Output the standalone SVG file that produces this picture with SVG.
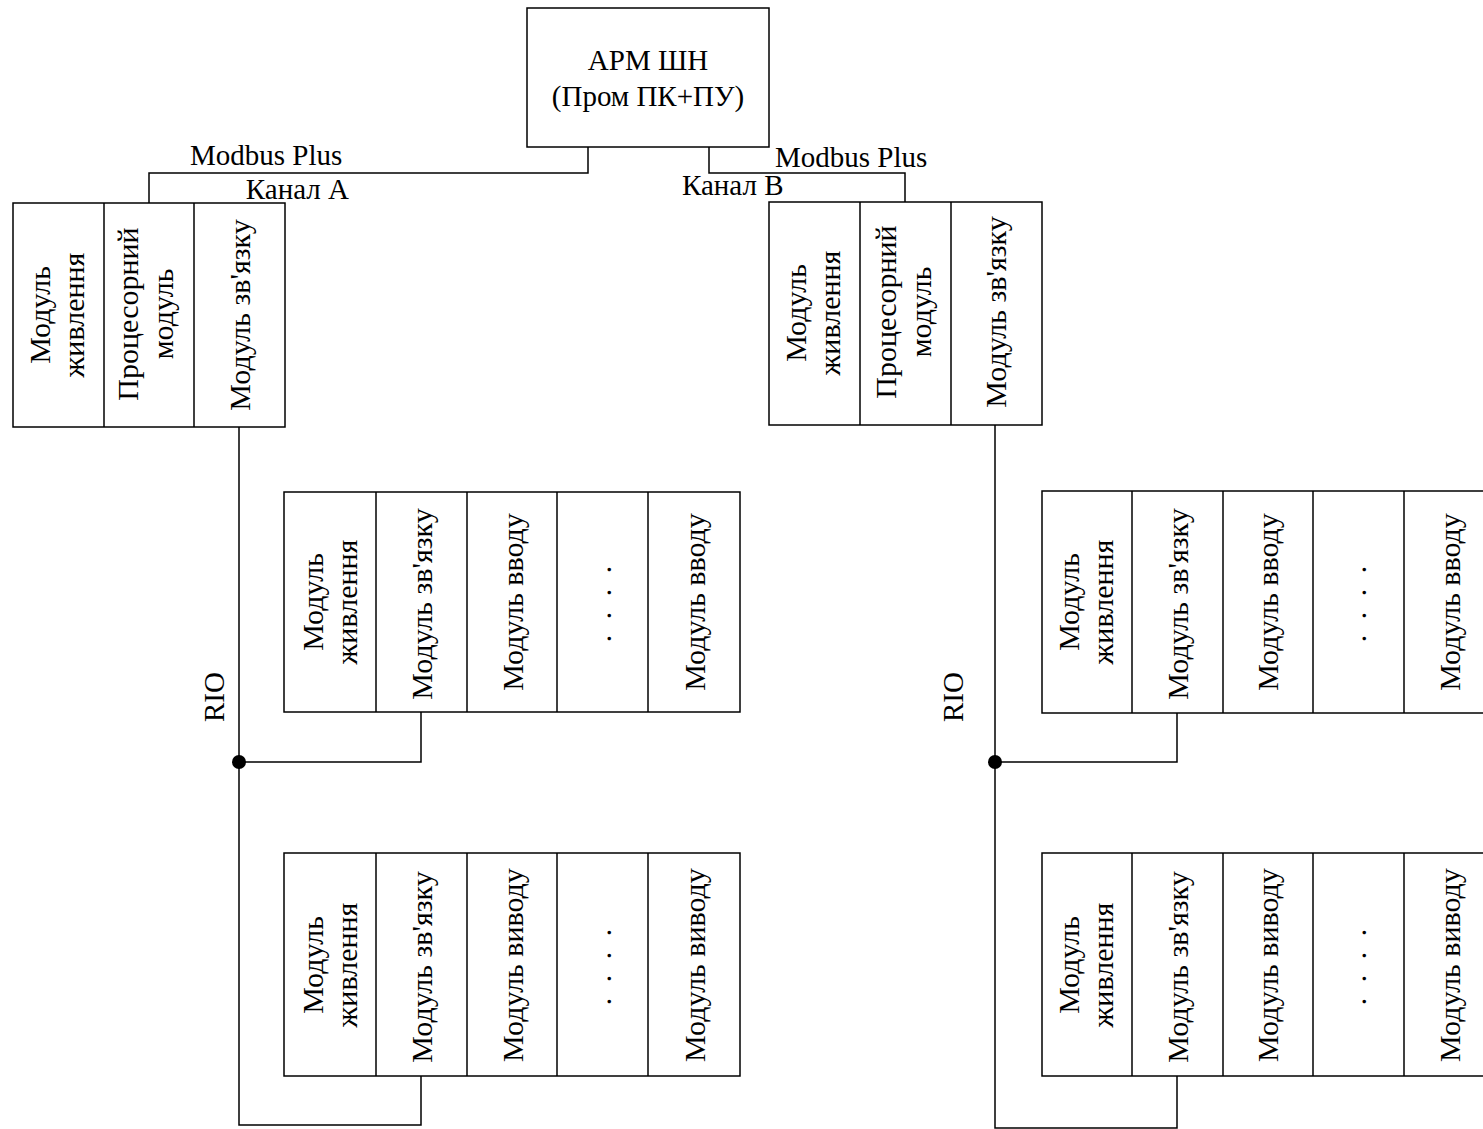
<svg xmlns="http://www.w3.org/2000/svg" width="1483" height="1129" viewBox="0 0 1483 1129">
  <style>
    .box { fill: #fff; stroke: #000; stroke-width: 1.5; }
    .div { stroke: #000; stroke-width: 1.5; }
    .wire { fill: none; stroke: #000; stroke-width: 1.5; }
    .t { font-family: "Liberation Serif", "Times New Roman", serif; font-size: 29px; fill: #000; }
    .v { font-family: "Liberation Serif", "Times New Roman", serif; font-size: 30px; fill: #000; text-anchor: middle; }
    .m { text-anchor: middle; }
    .dots { font-family: "Liberation Serif", "Times New Roman", serif; font-size: 30px; letter-spacing: 4px; text-anchor: middle; }
  </style>
  <rect width="1483" height="1129" fill="#fff"/>

  <!-- connectors -->
  <g id="connectors">
    <path class="wire" d="M588,147 V173 H149 V203"/>
    <path class="wire" d="M709,147 V173 H905 V202"/>
    <path class="wire" d="M239,427 V1125 H421 V1076"/>
    <path class="wire" d="M421,712 V762 H239"/>
    <path class="wire" d="M995,425 V1128 H1177 V1076"/>
    <path class="wire" d="M1177,713 V762 H995"/>
    <circle cx="239" cy="762" r="7" fill="#000"/>
    <circle cx="995" cy="762" r="7" fill="#000"/>
    <text class="t" x="190" y="165">Modbus Plus</text>
    <text class="t" x="349" y="199" text-anchor="end">Канал А</text>
    <text class="t" x="775" y="167">Modbus Plus</text>
    <text class="t" x="682" y="195">Канал В</text>
    <text class="t m" transform="translate(224,697) rotate(-90)">RIO</text>
    <text class="t m" transform="translate(963,697) rotate(-90)">RIO</text>
  </g>

  <!-- operator workstation -->
  <g id="arm">
    <rect class="box" x="527" y="8" width="242" height="139"/>
    <text class="t m" x="648" y="70">АРМ ШН</text>
    <text class="t m" x="648" y="106">(Пром ПК+ПУ)</text>
  </g>

  <!-- controller, channel A -->
  <g id="plc-a">
    <rect class="box" x="13" y="203" width="272" height="224"/>
    <line class="div" x1="104" y1="203" x2="104" y2="427"/>
    <line class="div" x1="194" y1="203" x2="194" y2="427"/>
    <text class="v" transform="translate(50,315) rotate(-90)">Модуль<tspan x="0" dy="34">живлення</tspan></text>
    <text class="v" transform="translate(138,314) rotate(-90)">Процесорний<tspan x="0" dy="35">модуль</tspan></text>
    <text class="v" transform="translate(250,315) rotate(-90)">Модуль зв'язку</text>
  </g>

  <!-- controller, channel B -->
  <g id="plc-b">
    <rect class="box" x="769" y="202" width="273" height="223"/>
    <line class="div" x1="860" y1="202" x2="860" y2="425"/>
    <line class="div" x1="951" y1="202" x2="951" y2="425"/>
    <text class="v" transform="translate(806,313) rotate(-90)">Модуль<tspan x="0" dy="34">живлення</tspan></text>
    <text class="v" transform="translate(896,312) rotate(-90)">Процесорний<tspan x="0" dy="35">модуль</tspan></text>
    <text class="v" transform="translate(1006,312) rotate(-90)">Модуль зв'язку</text>
  </g>

  <!-- remote input rack A -->
  <g id="rio-in-a">
    <rect class="box" x="284" y="492" width="456" height="220"/>
    <line class="div" x1="376" y1="492" x2="376" y2="712"/>
    <line class="div" x1="467" y1="492" x2="467" y2="712"/>
    <line class="div" x1="557" y1="492" x2="557" y2="712"/>
    <line class="div" x1="648" y1="492" x2="648" y2="712"/>
    <text class="v" transform="translate(323,602) rotate(-90)">Модуль<tspan x="0" dy="34">живлення</tspan></text>
    <text class="v" transform="translate(432,604) rotate(-90)">Модуль зв'язку</text>
    <text class="v" transform="translate(523,602) rotate(-90)">Модуль вводу</text>
    <text class="dots" transform="translate(611,602) rotate(-90)">. . . .</text>
    <text class="v" transform="translate(705,602) rotate(-90)">Модуль вводу</text>
  </g>

  <!-- remote output rack A -->
  <g id="rio-out-a">
    <rect class="box" x="284" y="853" width="456" height="223"/>
    <line class="div" x1="376" y1="853" x2="376" y2="1076"/>
    <line class="div" x1="467" y1="853" x2="467" y2="1076"/>
    <line class="div" x1="557" y1="853" x2="557" y2="1076"/>
    <line class="div" x1="648" y1="853" x2="648" y2="1076"/>
    <text class="v" transform="translate(323,965) rotate(-90)">Модуль<tspan x="0" dy="34">живлення</tspan></text>
    <text class="v" transform="translate(432,967) rotate(-90)">Модуль зв'язку</text>
    <text class="v" transform="translate(523,965) rotate(-90)">Модуль виводу</text>
    <text class="dots" transform="translate(611,965) rotate(-90)">. . . .</text>
    <text class="v" transform="translate(705,965) rotate(-90)">Модуль виводу</text>
  </g>

  <!-- remote input rack B -->
  <g id="rio-in-b">
    <rect class="box" x="1042" y="491" width="453" height="222"/>
    <line class="div" x1="1132" y1="491" x2="1132" y2="713"/>
    <line class="div" x1="1223" y1="491" x2="1223" y2="713"/>
    <line class="div" x1="1313" y1="491" x2="1313" y2="713"/>
    <line class="div" x1="1404" y1="491" x2="1404" y2="713"/>
    <text class="v" transform="translate(1079,602) rotate(-90)">Модуль<tspan x="0" dy="34">живлення</tspan></text>
    <text class="v" transform="translate(1188,604) rotate(-90)">Модуль зв'язку</text>
    <text class="v" transform="translate(1278,602) rotate(-90)">Модуль вводу</text>
    <text class="dots" transform="translate(1366,602) rotate(-90)">. . . .</text>
    <text class="v" transform="translate(1460,602) rotate(-90)">Модуль вводу</text>
  </g>

  <!-- remote output rack B -->
  <g id="rio-out-b">
    <rect class="box" x="1042" y="853" width="453" height="223"/>
    <line class="div" x1="1132" y1="853" x2="1132" y2="1076"/>
    <line class="div" x1="1223" y1="853" x2="1223" y2="1076"/>
    <line class="div" x1="1313" y1="853" x2="1313" y2="1076"/>
    <line class="div" x1="1404" y1="853" x2="1404" y2="1076"/>
    <text class="v" transform="translate(1079,965) rotate(-90)">Модуль<tspan x="0" dy="34">живлення</tspan></text>
    <text class="v" transform="translate(1188,967) rotate(-90)">Модуль зв'язку</text>
    <text class="v" transform="translate(1278,965) rotate(-90)">Модуль виводу</text>
    <text class="dots" transform="translate(1366,965) rotate(-90)">. . . .</text>
    <text class="v" transform="translate(1460,965) rotate(-90)">Модуль виводу</text>
  </g>
</svg>
